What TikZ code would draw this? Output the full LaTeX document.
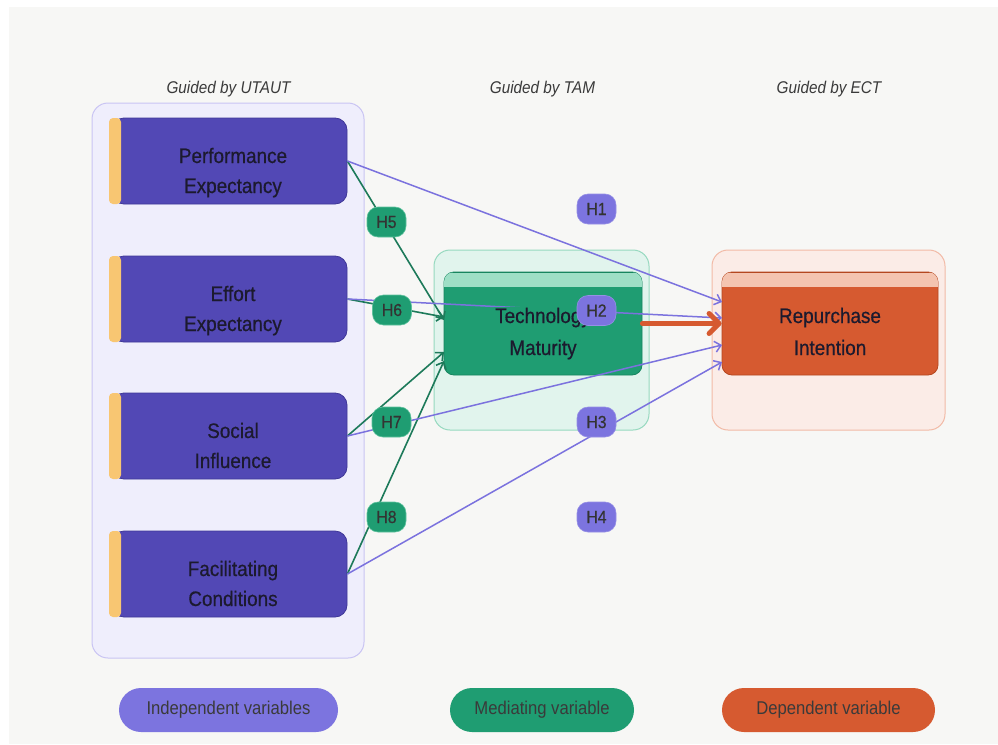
\documentclass[tikz,border=0pt]{standalone}
\usepackage{fontspec}
\setmainfont{Liberation Sans}[FakeStretch=0.9]
\newfontfamily\boxfont{Liberation Sans}[FakeStretch=0.9,FakeBold=0.5]
\usetikzlibrary{arrows.meta}
\definecolor{bgpanel}{HTML}{F7F7F5}
\definecolor{lavfill}{HTML}{EFEEFC}
\definecolor{lavline}{HTML}{C9C4F3}
\definecolor{pboxfill}{HTML}{5248B5}
\definecolor{pboxline}{HTML}{3F3797}
\definecolor{ystrip}{HTML}{F8C672}
\definecolor{boxtext}{HTML}{1C1A2E}
\definecolor{mintfill}{HTML}{E1F4ED}
\definecolor{mintline}{HTML}{96D9BF}
\definecolor{tmfill}{HTML}{1F9D72}
\definecolor{tmband}{HTML}{9EDFC6}
\definecolor{tmline}{HTML}{17855F}
\definecolor{peachfill}{HTML}{FBECE7}
\definecolor{peachline}{HTML}{F2BAA6}
\definecolor{rifill}{HTML}{D65A30}
\definecolor{riband}{HTML}{F4C4B0}
\definecolor{riline}{HTML}{B4471F}
\definecolor{plinec}{HTML}{7B72DE}
\definecolor{glinec}{HTML}{1D7A5A}
\definecolor{pillP}{HTML}{7C74DF}
\definecolor{pillG}{HTML}{1F9D72}
\definecolor{pillGline}{HTML}{5FC29E}
\definecolor{pilltext}{HTML}{333333}
\definecolor{legtext}{HTML}{3A3A3A}
\tikzset{
  grp/.style={rounded corners=16pt, line width=1pt, inner sep=0pt},
  pbox/.style={rounded corners=12pt, fill=pboxfill, draw=pboxline, line width=0.8pt, inner sep=0pt, minimum width=235pt, minimum height=86pt},
  bigbox/.style={rounded corners=10pt, line width=0.8pt, inner sep=0pt},
  btext/.style={anchor=base, inner sep=0pt, text=boxtext, font=\boxfont\fontsize{21}{30}\selectfont},
  head/.style={anchor=base, inner sep=0pt, text=legtext, font=\fontsize{17}{20}\selectfont\itshape},
  gline/.style={draw=glinec, line width=1.6pt, -{Straight Barb[length=6pt,width=11pt]}},
  pline/.style={draw=plinec, line width=1.5pt, -{Straight Barb[length=6pt,width=11pt]}},
  oline/.style={draw=rifill, line width=5pt, line cap=round, -{Straight Barb[length=10pt,width=20pt,line join=round, line cap=round]}},
  pill/.style={rounded corners=11pt, minimum width=39pt, minimum height=30pt, inner sep=0pt, text=pilltext, font=\boxfont\fontsize{17.5}{20}\selectfont},
  gpill/.style={pill, fill=pillG, draw=pillGline, line width=0.6pt},
  ppill/.style={pill, fill=pillP, draw=pillP!80!white, line width=0.6pt},
  leg/.style={rounded corners=22pt, minimum height=44pt, inner sep=0pt, text=legtext, font=\fontsize{18.5}{20}\selectfont}
}
\begin{document}
\begin{tikzpicture}[x=1pt,y=-1pt]
\useasboundingbox (0,0) rectangle (998,744);
\fill[white] (0,0) rectangle (998,744);
\fill[bgpanel] (9,7) rectangle (998,744);

% headers
\node[head] (h-utaut) at (228.5,93) {Guided by UTAUT};
\node[head] (h-tam) at (542.5,93) {Guided by TAM};
\node[head] (h-ect) at (829,93) {Guided by ECT};

% group boxes
\node[grp, fill=lavfill, draw=lavline, minimum width=272pt, minimum height=555pt] (gleft) at (228,380.5) {};
\node[grp, fill=mintfill, draw=mintline, minimum width=215pt, minimum height=180pt] (gmid) at (541.5,340) {};
\node[grp, fill=peachfill, draw=peachline, minimum width=233pt, minimum height=180pt] (gright) at (828.5,340) {};

% purple boxes
\node[pbox] (pe) at (229.5,161) {};
\node[pbox] (ee) at (229.5,299) {};
\node[pbox] (si) at (229.5,436) {};
\node[pbox] (fc) at (229.5,574) {};
\foreach \t in {118,256,393,531}{
  \fill[ystrip, rounded corners=4pt] (109,\t) rectangle (121,\t+86);
}
\node[btext] (pe1) at (233,163) {Performance};
\node[btext] (pe2) at (233,193) {Expectancy};
\node[btext] (ee1) at (233,301) {Effort};
\node[btext] (ee2) at (233,331) {Expectancy};
\node[btext] (si1) at (233,438) {Social};
\node[btext] (si2) at (233,468) {Influence};
\node[btext] (fc1) at (233,576) {Facilitating};
\node[btext] (fc2) at (233,606) {Conditions};

% mediating box
\node[bigbox, fill=tmfill, draw=tmline, minimum width=198pt, minimum height=103pt] (tm) at (543,323.5) {};
\begin{scope}
  \clip[rounded corners=10pt] (444,272) rectangle (642,375);
  \fill[tmband] (444,272) rectangle (642,287);
  \draw[tmline, line width=1pt] (444,272.5) -- (642,272.5);
\end{scope}
\node[btext] (tm2) at (543,355) {Maturity};

% dependent box
\node[bigbox, fill=rifill, draw=riline, minimum width=216pt, minimum height=103pt] (ri) at (830,323.5) {};
\begin{scope}
  \clip[rounded corners=10pt] (722,272) rectangle (938,375);
  \fill[riband] (722,272) rectangle (938,287);
  \draw[riline, line width=1pt] (722,272.5) -- (938,272.5);
\end{scope}
\node[btext] (ri1) at (830,323) {Repurchase};
\node[btext] (ri2) at (830,355) {Intention};

% arrow end coordinates
\coordinate (tmA) at (444,320);
\coordinate (tmB) at (444,317);
\coordinate (tmC) at (444,352);
\coordinate (tmD) at (444,361);
\coordinate (riA) at (722,302);
\coordinate (riB) at (722,318);
\coordinate (riC) at (722,345);
\coordinate (riD) at (722,362);

% connectors
\draw[gline] (pe.east) -- (tmA);
\draw[gline] (ee.east) -- (tmB);
\draw[gline] (si.east) -- (tmC);
\draw[gline] (fc.east) -- (tmD);
\draw[pline] (pe.east) -- (riA);
\draw[pline] (ee.east) -- (riB);
\draw[pline] (si.east) -- (riC);
\draw[pline] (fc.east) -- (riD);
\draw[oline] (tm.east) -- (ri.west);

% Technology label covers the line
\node[btext, fill=tmfill, inner sep=1pt] (tm1) at (543,323) {Technology};

% hypothesis pills
\node[gpill] (H5) at (386.5,222) {H5};
\node[gpill] (H6) at (392,310) {H6};
\node[gpill] (H7) at (391.5,422) {H7};
\node[gpill] (H8) at (386.5,517) {H8};
\node[ppill] (H1) at (596.5,209) {H1};
\node[ppill] (H2) at (596.5,310.5) {H2};
\node[ppill] (H3) at (596.5,422) {H3};
\node[ppill] (H4) at (596.5,517) {H4};

% legend
\node[leg, fill=pillP, minimum width=219pt] (lg1) at (228.5,710) {Independent variables};
\node[leg, fill=pillG, minimum width=184pt] (lg2) at (542,710) {Mediating variable};
\node[leg, fill=rifill, minimum width=213pt] (lg3) at (828.5,710) {Dependent variable};
\end{tikzpicture}
\end{document}
